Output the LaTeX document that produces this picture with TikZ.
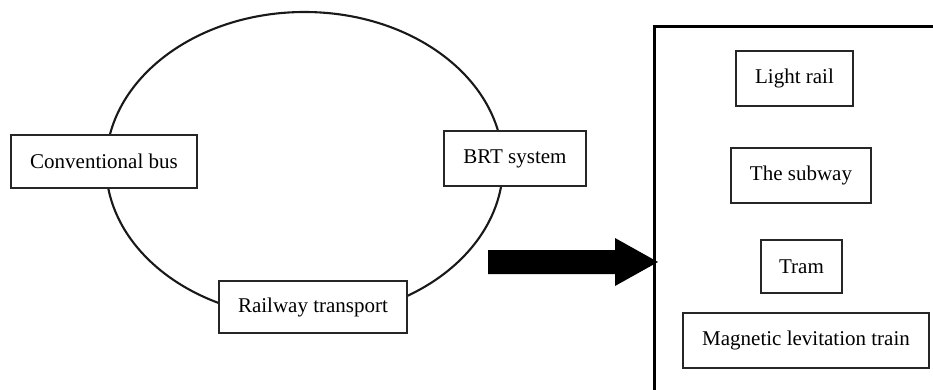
\documentclass[tikz,border=0pt]{standalone}
\usepackage{fontspec}
\setmainfont{Liberation Serif}
\begin{document}
\begin{tikzpicture}[x=1pt,y=-1pt,
  box/.style={draw=black!85, line width=1.9pt, fill=white, inner sep=0pt, font=\fontsize{21}{24}\selectfont}]
\useasboundingbox (0,0) rectangle (933,390);
% ring
\draw[line width=2.1pt, black!90] (304.5,165) ellipse [x radius=198.5, y radius=153];
% boxes on the ring
\node[box, minimum width=186pt, minimum height=53pt] (bus) at (104,161.5) {Conventional bus};
\node[box, minimum width=142pt, minimum height=55pt] (brt) at (515,158.5) {BRT system};
\node[box, minimum width=188pt, minimum height=52pt] (rail) at (313,307) {Railway transport};
% big frame
\coordinate (fbl) at (654,395);
\coordinate (ftl) at (654,27);
\coordinate (ftr) at (940,27);
\draw[line width=3pt] (fbl) -- (ftl) -- (ftr);
% inner boxes
\node[box, minimum width=117pt, minimum height=55pt] (light) at (794.5,78.5) {Light rail};
\node[box, minimum width=140pt, minimum height=55pt] (subway) at (801,175.5) {The subway};
\node[box, minimum width=81pt, minimum height=53pt] (tram) at (801.5,266.5) {Tram};
\node[box, minimum width=246pt, minimum height=55pt] (maglev) at (806,340.5) {Magnetic levitation train};
% block arrow
\coordinate (tip) at (658,262);
\fill[black] (488,250) -- (615,250) -- (615,238) -- (tip) -- (615,286) -- (615,274) -- (488,274) -- cycle;
\end{tikzpicture}
\end{document}
